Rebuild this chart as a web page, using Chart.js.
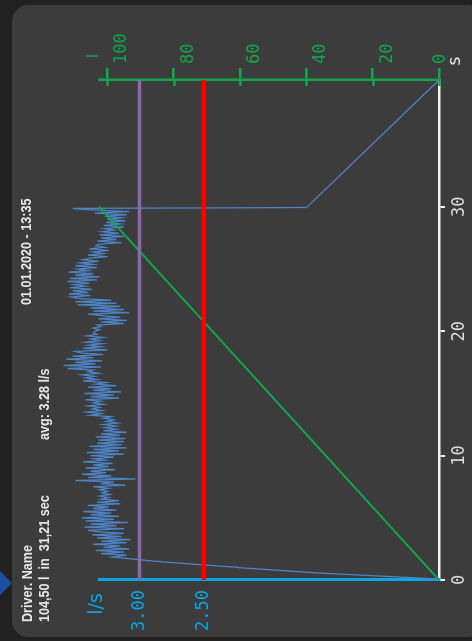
<!DOCTYPE html>
<html>
<head>
<meta charset="utf-8">
<title>Flow log</title>
<script src="https://cdn.jsdelivr.net/npm/chart.js@4/dist/chart.umd.min.js"></script>
<style>
  html, body { margin: 0; padding: 0; background: #212121; overflow: hidden; }
  body { width: 472px; height: 641px; position: relative; }
  /* the log view is laid out landscape and turned a quarter to the left */
  #turn { position: absolute; left: 0; top: 0; width: 641px; height: 472px;
          transform-origin: 0 0; transform: translateY(641px) rotate(-90deg); }
</style>
</head>
<body>
<div id="turn"><canvas id="flowChart" width="641" height="472"></canvas></div>
<script>
// header
const driverName = 'Driver. Name';
const summaryText = '104,50 l  in  31,21 sec';
const avgText = 'avg: 3.28 l/s';
const stampText = '01.01.2020 - 13:35';

// axis ticks
const timeTicks = [0, 10, 20, 30];
const flowTicks = [3.00, 2.50];
const litreTicks = [0, 20, 40, 60, 80, 100];

// limit lines (l/s)
const limitHigh = 3.00;
const limitLow = 2.50;

// flow (l/s): start-up ramp, sampled run, run-out
const rampTime = [0.08, 0.56, 1.00, 1.04, 1.47, 1.50, 1.85];
const rampFlow = [0.67, 1.60, 2.24, 2.27, 2.84, 2.87, 3.21];
const sampleStart = 2.0;
const sampleStep = 0.125;
const flowSamples = [
  3.10, 3.30, 3.12, 3.34, 3.08, 3.28, 3.15, 3.36, 3.10, 3.30, 3.07, 3.33, 3.14, 3.37, 3.12, 3.32,
  3.40, 3.12, 3.43, 3.18, 3.38, 3.09,
  3.42, 3.20, 3.45, 3.16, 3.38, 3.22, 3.44, 3.18, 3.36, 3.24, 3.40, 3.15,
  3.33, 3.16, 3.30, 3.24, 3.31, 3.23, 3.29, 3.25, 3.31, 3.24,
  3.36, 3.11, 3.30, 3.20,
  3.50, 3.03,
  3.40, 3.22, 3.45, 3.26, 3.38, 3.19, 3.42, 3.24, 3.36, 3.21, 3.44, 3.27, 3.35, 3.20,
  3.38, 3.12, 3.41, 3.16, 3.36, 3.10, 3.39, 3.14, 3.33, 3.12,
  3.32, 3.11, 3.34, 3.15, 3.30, 3.10, 3.28, 3.18,
  3.27, 3.18, 3.28, 3.17, 3.26, 3.20, 3.28, 3.22,
  3.38, 3.30, 3.41, 3.29, 3.37, 3.31, 3.40, 3.28, 3.36, 3.30,
  3.42, 3.16, 3.38, 3.20, 3.43, 3.14, 3.36, 3.22, 3.40, 3.18, 3.34, 3.26,
  3.44, 3.33, 3.42, 3.35, 3.45, 3.32, 3.40, 3.36,
  3.56, 3.30, 3.59, 3.34, 3.50, 3.29, 3.57, 3.36, 3.52, 3.28, 3.45,
  3.50, 3.25, 3.44, 3.30,
  3.40, 3.29, 3.42, 3.31, 3.38, 3.28, 3.41, 3.33, 3.36,
  3.35, 3.31, 3.36, 3.30,
  3.33, 3.12, 3.30, 3.10, 3.32, 3.15, 3.28,
  3.40, 3.08, 3.36, 3.12, 3.38,
  3.15, 3.48, 3.18, 3.50, 3.22, 3.46,
  3.53, 3.38, 3.55, 3.40, 3.52, 3.37, 3.54, 3.42, 3.51, 3.39,
  3.56, 3.33, 3.54, 3.31, 3.50, 3.36, 3.55, 3.40,
  3.48, 3.33, 3.50, 3.36, 3.46, 3.32, 3.44,
  3.38, 3.25, 3.40, 3.28, 3.36, 3.24, 3.39, 3.27, 3.34,
  3.32, 3.14, 3.33, 3.18, 3.30, 3.12, 3.31, 3.16, 3.29, 3.20,
  3.27, 3.12, 3.28, 3.15, 3.26, 3.11, 3.25, 3.14, 3.27,
  3.10, 3.35, 3.08, 3.37, 3.52
];
const tailTime = [29.95, 40.2];
const tailFlow = [1.70, 0.67];

// dispensed volume (l)
const volumeTime = [0, 30.6, 40.2];
const volumeLitres = [0, 104.5, 104.5];

const CYAN = '#0aa6e4';
const GREEN = '#12a64a';
const MONO = '"DejaVu Sans Mono", monospace';

const flowPoints = [
  ...rampTime.map((t, i) => ({ x: t, y: rampFlow[i] })),
  ...flowSamples.map((v, i) => ({ x: sampleStart + i * sampleStep, y: v })),
  ...tailTime.map((t, i) => ({ x: t, y: tailFlow[i] }))
];
const volumePoints = volumeTime.map((t, i) => ({ x: t, y: volumeLitres[i] }));
const tMax = 40.2;

// narrow header lettering
function narrowText(c, text, x, y) {
  c.save();
  c.translate(x, y);
  c.scale(0.84, 1);
  c.fillText(text, 0, 0);
  c.restore();
}

// card background, marker, header text, axis units
const panel = {
  id: 'panel',
  beforeDraw(chart) {
    const c = chart.ctx;
    c.save();
    c.fillStyle = '#212121';
    c.fillRect(0, 0, chart.width, chart.height);
    c.fillStyle = '#3c3c3c';
    c.beginPath();
    c.roundRect(4, 12, 632, 472, 16);
    c.fill();
    c.fillStyle = '#1b4f9f';
    c.beginPath();
    c.moveTo(46, 0); c.lineTo(70, 0); c.lineTo(58, 12); c.closePath();
    c.fill();
    c.fillStyle = '#e6e6e6';
    c.font = 'bold 15px "Liberation Sans", Arial, sans-serif';
    c.textBaseline = 'alphabetic';
    narrowText(c, driverName, 19, 31.5);
    narrowText(c, stampText, 336, 31);
    narrowText(c, summaryText, 19, 48.5);
    narrowText(c, avgText, 201, 48.5);
    c.restore();
  },
  afterDraw(chart) {
    const c = chart.ctx;
    const a = chart.chartArea;
    const y2 = chart.scales.y2;
    c.save();
    // volume ticks cross the axis line; labels sit just under their tick
    c.strokeStyle = GREEN;
    c.lineWidth = 2.5;
    c.fillStyle = GREEN;
    c.font = '17px ' + MONO;
    c.textAlign = 'left';
    c.textBaseline = 'middle';
    litreTicks.forEach(v => {
      const py = Math.round(y2.getPixelForValue(v)) + 0.5;
      c.beginPath(); c.moveTo(a.right - 6, py); c.lineTo(a.right, py); c.stroke();
      c.fillText(String(v), a.right + 16, Math.min(py + 14, a.bottom + 2));
    });
    // axis units
    c.textAlign = 'center';
    c.font = '19px "DejaVu Sans", sans-serif';
    c.fillStyle = CYAN;
    c.fillText('l/s', 37, a.top - 2);
    c.font = '16px "DejaVu Sans", sans-serif';
    c.fillStyle = GREEN;
    c.fillText('l', a.right + 24, a.top - 5);
    c.font = '17px "DejaVu Sans", sans-serif';
    c.fillStyle = '#e8e8e8';
    c.fillText('s', a.right + 19, a.bottom + 17);
    c.restore();
  }
};

new Chart(document.getElementById('flowChart'), {
  type: 'line',
  data: {
    datasets: [
      {
        data: [{ x: 0, y: limitLow }, { x: tMax, y: limitLow }],
        borderColor: '#ff0000', borderWidth: 4.5, yAxisID: 'y'
      },
      {
        data: [{ x: 0, y: limitHigh }, { x: tMax, y: limitHigh }],
        borderColor: '#8a68aa', borderWidth: 3.3, yAxisID: 'y'
      },
      {
        data: volumePoints,
        borderColor: GREEN, borderWidth: 2, yAxisID: 'y2'
      },
      {
        data: flowPoints,
        borderColor: '#4d82c4', borderWidth: 1.3, yAxisID: 'y', clip: false
      }
    ]
  },
  options: {
    responsive: false,
    animation: false,
    layout: { padding: { top: 99, left: 0, right: 0, bottom: 0 } },
    elements: { point: { radius: 0 }, line: { tension: 0 } },
    plugins: { legend: { display: false }, tooltip: { enabled: false } },
    scales: {
      x: {
        type: 'linear', min: 0, max: tMax,
        afterBuildTicks: s => { s.ticks = timeTicks.map(v => ({ value: v })); },
        afterFit: s => { s.height = 33; },
        border: { color: '#f2f2f2', width: 2.5 },
        grid: { drawOnChartArea: false, color: '#f2f2f2', lineWidth: 2, tickLength: 6 },
        ticks: { color: '#dcdcdc', font: { family: MONO, size: 17 }, padding: 4, maxRotation: 0 }
      },
      y: {
        position: 'left', min: 0.67, max: 3.315,
        afterBuildTicks: s => { s.ticks = flowTicks.map(v => ({ value: v })); },
        afterFit: s => { s.width = 61; },
        border: { color: CYAN, width: 3 },
        grid: { drawOnChartArea: false, drawTicks: false },
        ticks: { color: CYAN, font: { family: MONO, size: 17 }, padding: 10,
                 callback: v => Number(v).toFixed(2) }
      },
      y2: {
        position: 'right', min: 0, max: 102.5,
        afterBuildTicks: s => { s.ticks = litreTicks.map(v => ({ value: v })); },
        afterFit: s => { s.width = 80; },
        border: { color: GREEN, width: 2.5 },
        grid: { drawOnChartArea: false, color: GREEN, lineWidth: 2.5, tickLength: 12 },
        ticks: { display: false }
      }
    }
  },
  plugins: [panel]
});
</script>
</body>
</html>
